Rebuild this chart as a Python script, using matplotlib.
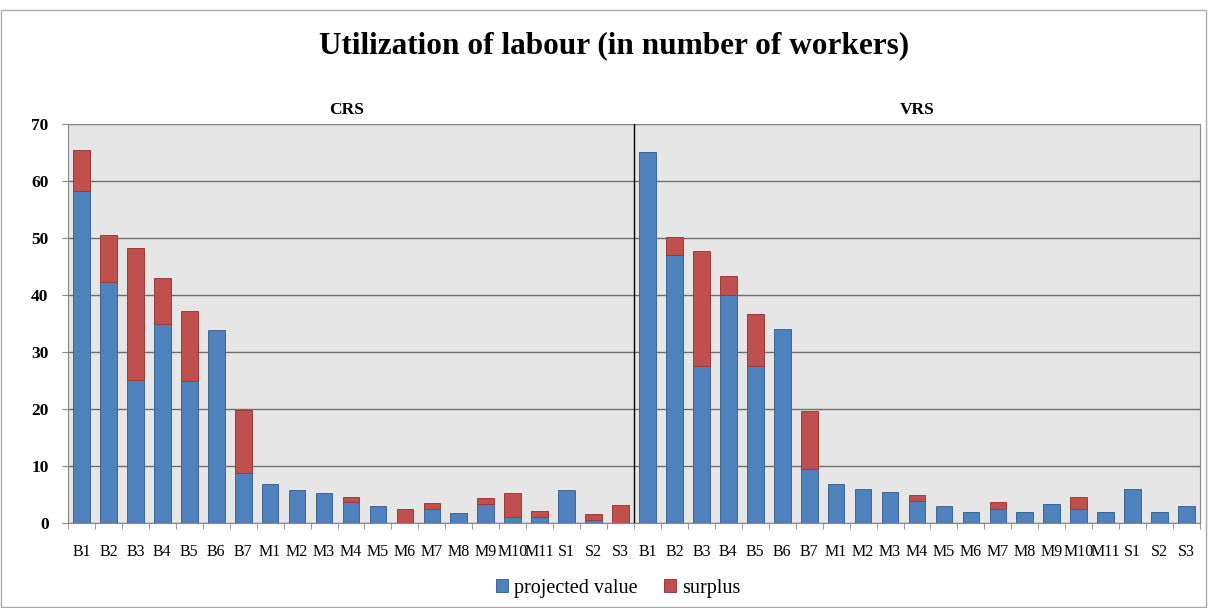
import matplotlib.pyplot as plt
from matplotlib.patches import Rectangle
import numpy as np

units = ['B1', 'B2', 'B3', 'B4', 'B5', 'B6', 'B7', 'M1', 'M2', 'M3', 'M4', 'M5',
         'M6', 'M7', 'M8', 'M9', 'M10', 'M11', 'S1', 'S2', 'S3']

crs_projected = [58.2, 42.2, 25.1, 34.9, 25.0, 33.9, 8.7, 6.8, 5.8, 5.3, 3.6, 2.9,
                 0.0, 2.5, 1.7, 3.3, 1.1, 1.1, 5.8, 0.6, 0.0]
crs_surplus = [7.2, 8.3, 23.2, 8.0, 12.2, 0.0, 11.1, 0.0, 0.0, 0.0, 0.9, 0.0,
               2.4, 1.0, 0.0, 1.05, 4.1, 1.0, 0.0, 0.95, 3.2]

vrs_projected = [65.1, 47.1, 27.6, 40.0, 27.6, 34.0, 9.5, 6.9, 5.9, 5.4, 3.8, 2.95,
                 1.95, 2.5, 1.95, 3.35, 2.5, 1.95, 5.9, 1.95, 2.95]
vrs_surplus = [0.0, 3.1, 20.1, 3.3, 9.15, 0.0, 10.2, 0.0, 0.0, 0.0, 1.2, 0.0,
               0.0, 1.1, 0.0, 0.0, 2.1, 0.0, 0.0, 0.0, 0.0]

plt.rcParams['font.family'] = ['Liberation Serif', 'DejaVu Serif']

labels = units + units
projected = np.array(crs_projected + vrs_projected)
surplus = np.array(crs_surplus + vrs_surplus)
x = np.arange(len(labels))

fig = plt.figure(figsize=(12.08, 6.08), dpi=100)
ax = fig.add_axes([68 / 1208, 1 - 523 / 608, 1132 / 1208, 399 / 608])
ax.set_facecolor('#E6E6E6')

blue = '#4F81BD'
red = '#C0504D'
# no outline on empty segments, otherwise a thin line shows on top of the bar
blue_edges = ['#3C6796' if v > 0 else 'none' for v in projected]
red_edges = ['#9E3B38' if v > 0 else 'none' for v in surplus]
ax.bar(x, projected, width=0.62, color=blue, edgecolor=blue_edges, linewidth=0.7,
       label='projected value', zorder=3)
ax.bar(x, surplus, width=0.62, bottom=projected, color=red, edgecolor=red_edges,
       linewidth=0.7, label='surplus', zorder=3)

ax.set_xlim(-0.5, len(labels) - 0.5)
ax.set_ylim(0, 70)
ax.set_yticks(range(0, 71, 10))
ax.yaxis.grid(True, color='#6E6E6E', linewidth=1.0, zorder=1)
ax.set_axisbelow(True)

ax.set_xticks(x)
ax.set_xticklabels(labels, fontsize=11.5)
ax.set_xticks(np.arange(-0.5, len(labels), 1), minor=True)
ax.tick_params(axis='x', which='major', length=0, pad=15)
ax.tick_params(axis='x', which='minor', length=4, color='#888888')
ax.tick_params(axis='y', labelsize=12.5, length=4, color='#888888', pad=10)
for t in ax.get_yticklabels():
    t.set_fontweight('bold')

for side in ['top', 'right', 'left', 'bottom']:
    ax.spines[side].set_color('#888888')

ax.axvline(len(units) - 0.5, color='black', linewidth=1.0, zorder=4)

ax.text((len(units) - 1) / 2 - 0.15, 71.0, 'CRS', ha='center', va='bottom',
        fontsize=12.5, fontweight='bold')
ax.text(len(units) + (len(units) - 1) / 2, 71.0, 'VRS', ha='center', va='bottom',
        fontsize=12.5, fontweight='bold')

fig.text(614 / 1208, 1 - 46 / 608, 'Utilization of labour (in number of workers)',
         ha='center', va='center', fontsize=22.5, fontweight='bold')

fig.legend(loc='center', bbox_to_anchor=(618 / 1208, 1 - 588 / 608), ncol=2,
           frameon=False, fontsize=14.5, handlelength=0.6, handleheight=0.6,
           handletextpad=0.3, columnspacing=1.3)

fig.patches.append(Rectangle((1 / 1208, 0.002), 1205 / 1208, 1 - 10 / 608 - 0.002,
                             transform=fig.transFigure, fill=False,
                             edgecolor='#AAAAAA', linewidth=1.0))

fig.savefig('out.png', dpi=100, facecolor='white')
